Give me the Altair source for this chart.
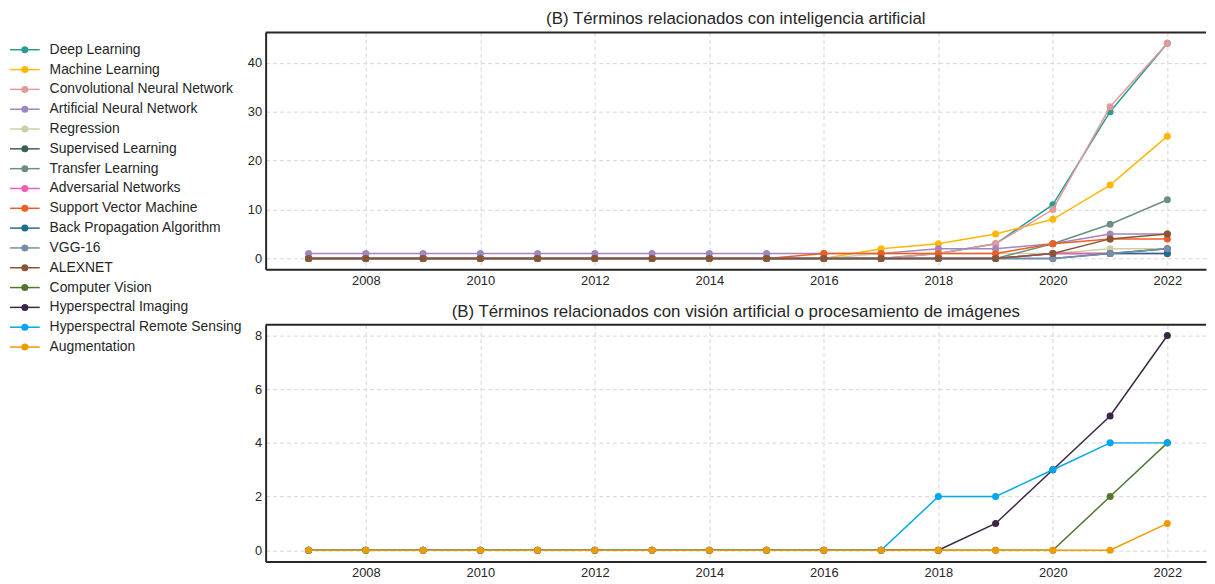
import altair as alt
import pandas as pd

years = [2007, 2008, 2009, 2010, 2011, 2012, 2013, 2014, 2015, 2016, 2017, 2018, 2019, 2020, 2021, 2022]

# (B) AI-related terms
deep_learning = [0, 0, 0, 0, 0, 0, 0, 0, 0, 0, 0, 1, 3, 11, 30, 44]
machine_learning = [0, 0, 0, 0, 0, 0, 0, 0, 0, 0, 2, 3, 5, 8, 15, 25]
convolutional_nn = [0, 0, 0, 0, 0, 0, 0, 0, 0, 0, 0, 1, 3, 10, 31, 44]
artificial_nn = [1, 1, 1, 1, 1, 1, 1, 1, 1, 1, 1, 2, 2, 3, 5, 5]
regression = [0, 0, 0, 0, 0, 0, 0, 0, 0, 0, 1, 1, 1, 1, 2, 2]
supervised_learning = [0, 0, 0, 0, 0, 0, 0, 0, 0, 0, 0, 0, 0, 1, 1, 2]
transfer_learning = [0, 0, 0, 0, 0, 0, 0, 0, 0, 0, 0, 0, 0, 3, 7, 12]
adversarial_networks = [0, 0, 0, 0, 0, 0, 0, 0, 0, 0, 0, 0, 0, 1, 1, 1]
support_vector_machine = [0, 0, 0, 0, 0, 0, 0, 0, 0, 1, 1, 1, 1, 3, 4, 4]
back_propagation = [0, 0, 0, 0, 0, 0, 0, 0, 0, 0, 0, 0, 0, 0, 1, 1]
vgg16 = [0, 0, 0, 0, 0, 0, 0, 0, 0, 0, 0, 0, 0, 0, 1, 2]
alexnet = [0, 0, 0, 0, 0, 0, 0, 0, 0, 0, 0, 0, 0, 1, 4, 5]

# (B) computer vision / image processing terms
computer_vision = [0, 0, 0, 0, 0, 0, 0, 0, 0, 0, 0, 0, 0, 0, 2, 4]
hyperspectral_imaging = [0, 0, 0, 0, 0, 0, 0, 0, 0, 0, 0, 0, 1, 3, 5, 8]
hyperspectral_remote_sensing = [0, 0, 0, 0, 0, 0, 0, 0, 0, 0, 0, 2, 2, 3, 4, 4]
augmentation = [0, 0, 0, 0, 0, 0, 0, 0, 0, 0, 0, 0, 0, 0, 0, 1]

ai_series = [
    ("Deep Learning", deep_learning),
    ("Machine Learning", machine_learning),
    ("Convolutional Neural Network", convolutional_nn),
    ("Artificial Neural Network", artificial_nn),
    ("Regression", regression),
    ("Supervised Learning", supervised_learning),
    ("Transfer Learning", transfer_learning),
    ("Adversarial Networks", adversarial_networks),
    ("Support Vector Machine", support_vector_machine),
    ("Back Propagation Algorithm", back_propagation),
    ("VGG-16", vgg16),
    ("ALEXNET", alexnet),
]
cv_series = [
    ("Computer Vision", computer_vision),
    ("Hyperspectral Imaging", hyperspectral_imaging),
    ("Hyperspectral Remote Sensing", hyperspectral_remote_sensing),
    ("Augmentation", augmentation),
]

colors = [
    "#2a9d8f", "#ffb703", "#e5989b", "#9f86c0", "#ccd0a6", "#3f5f55",
    "#6b9080", "#f15bb5", "#f05d23", "#1b6e8e", "#778da9", "#8a5534",
    "#4f772d", "#3c2645", "#00a6ed", "#ee9b00",
]

all_names = [n for n, _ in ai_series] + [n for n, _ in cv_series]
color_scale = alt.Scale(domain=all_names, range=colors)

FONT = "Liberation Sans"
TXT = "#262626"
PW = 949
X_DOMAIN = [2006.25, 2022.675]
PT_SIZE = 50
LW = 1.5


def long_df(series):
    rows = []
    for name, vals in series:
        for y, v in zip(years, vals):
            rows.append({"series": name, "year": y, "value": v})
    return pd.DataFrame(rows)


def panel(series, title, ydomain, yticks, height):
    df = long_df(series)
    xscale = alt.Scale(domain=X_DOMAIN, nice=False, zero=False)
    yscale = alt.Scale(domain=ydomain, nice=False, zero=False)
    xaxis = alt.Axis(values=[2008, 2010, 2012, 2014, 2016, 2018, 2020, 2022], format="d",
                     title=None, ticks=False, labelPadding=5, grid=True,
                     domainColor=TXT, domainWidth=2)
    yaxis = alt.Axis(values=yticks, format="d", title=None, ticks=False, labelPadding=4,
                     grid=True, domainColor=TXT, domainWidth=2)
    layers = []
    for name, _ in series:
        sub = df[df["series"] == name]
        layers.append(
            alt.Chart(sub).mark_line(
                strokeWidth=LW,
                point=alt.OverlayMarkDef(filled=True, size=PT_SIZE, opacity=1),
            ).encode(
                x=alt.X("year:Q", scale=xscale, axis=xaxis),
                y=alt.Y("value:Q", scale=yscale, axis=yaxis),
                color=alt.Color("series:N", scale=color_scale, legend=None),
            )
        )
    top_border = alt.Chart(pd.DataFrame({"b": [0]})).mark_rule(
        color=TXT, strokeWidth=2
    ).encode(x=alt.value(0), x2=alt.value(PW), y=alt.value(0))
    layers.append(top_border)
    return alt.layer(*layers).properties(
        width=PW, height=height,
        title=alt.TitleParams(title, fontSize=17, font=FONT, color=TXT,
                              fontWeight="normal", anchor="middle", offset=3),
    )


top = panel(ai_series, "(B) Términos relacionados con inteligencia artificial",
            [-2.2, 46.2], [0, 10, 20, 30, 40], 239)
bottom = panel(cv_series, "(B) Términos relacionados con visión artificial o procesamiento de imágenes",
               [-0.42, 8.4], [0, 2, 4, 6, 8], 239)

leg_df = pd.DataFrame({"series": all_names})
leg_y = alt.Y("series:N", sort=all_names,
              scale=alt.Scale(type="point", domain=all_names, range=[17.5, 317.5], padding=0),
              axis=None)
leg_rule = alt.Chart(leg_df).mark_rule(strokeWidth=LW).encode(
    y=leg_y, x=alt.value(2), x2=alt.value(32),
    color=alt.Color("series:N", scale=color_scale, legend=None))
leg_pt = alt.Chart(leg_df).mark_point(filled=True, size=PT_SIZE, opacity=1).encode(
    y=leg_y, x=alt.value(17),
    color=alt.Color("series:N", scale=color_scale, legend=None))
leg_txt = alt.Chart(leg_df).mark_text(align="left", baseline="middle", fontSize=14,
                                      font=FONT, color=TXT).encode(
    y=leg_y, x=alt.value(42), text="series:N")
legend = alt.layer(leg_rule, leg_pt, leg_txt).properties(width=234, height=530)

chart = alt.hconcat(
    legend,
    alt.vconcat(top, bottom, spacing=16),
    spacing=5,
).properties(padding=0).configure_view(stroke=None).configure_axis(
    labelFont=FONT, labelFontSize=13, labelColor=TXT,
    gridColor="#d6d6d6", gridDash=[4, 3], gridWidth=1,
)

chart.save("out.html", embed_options={"renderer": "svg", "actions": False})
